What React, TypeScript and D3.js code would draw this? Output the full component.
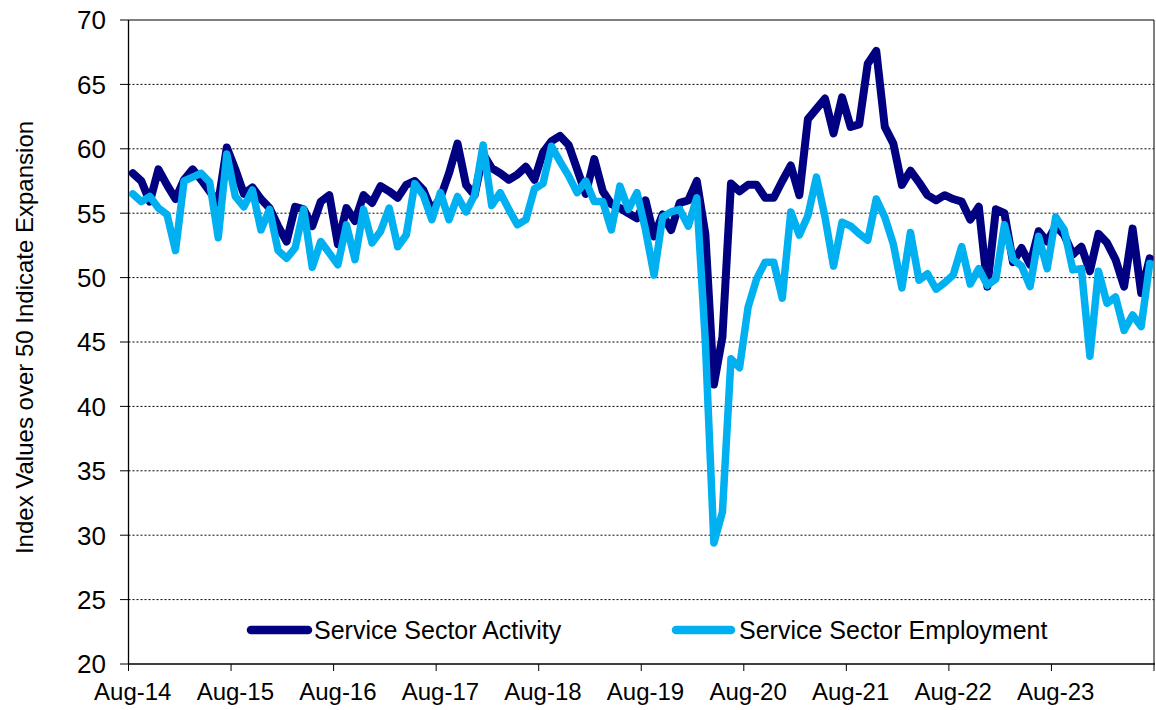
import * as d3 from "d3";

// monthly readings, Aug-14 .. Jul-24
const activity = [
  58.1, 57.5, 55.9, 58.4, 57.2, 56.1, 57.6, 58.4, 57.6, 56.7,
  55.8, 60.1, 58.4, 56.5, 57.0, 56.1, 55.4, 54.0, 52.8, 55.5,
  55.3, 54.0, 55.9, 56.4, 52.6, 55.4, 54.4, 56.4, 55.8, 57.1,
  56.7, 56.2, 57.2, 57.5, 56.8, 55.2, 56.2, 58.1, 60.4, 57.2,
  56.4, 59.6, 58.5, 58.1, 57.6, 58.0, 58.6, 57.6, 59.7, 60.6,
  61.0, 60.3, 58.4, 56.5, 59.2, 56.7, 55.7, 55.4, 55.0, 54.6,
  56.0, 53.2, 54.9, 53.7, 55.8, 56.0, 57.5, 53.4, 41.7, 45.4,
  57.3, 56.7, 57.2, 57.2, 56.2, 56.2, 57.5, 58.7, 56.4, 62.3,
  63.1, 63.9, 61.2, 64.0, 61.7, 61.9, 66.6, 67.6, 61.7, 60.4,
  57.2, 58.3, 57.4, 56.4, 56.0, 56.4, 56.1, 55.9, 54.5, 55.5,
  49.3, 55.3, 55.0, 51.2, 52.3, 51.0, 53.6, 52.8, 54.0, 53.3,
  51.8, 52.4, 50.5, 53.4, 52.7, 51.4, 49.3, 53.8, 48.8, 51.5,
];

const employment = [
  56.5, 55.9, 56.3, 55.4, 54.9, 52.1, 57.5, 57.8, 58.1, 57.4,
  53.1, 59.6, 56.3, 55.5, 56.8, 53.7, 55.3, 52.1, 51.5, 52.3,
  55.3, 50.8, 52.8, 51.9, 51.0, 54.1, 51.4, 55.3, 52.7, 53.6,
  55.4, 52.4, 53.3, 57.3, 56.4, 54.5, 56.6, 54.5, 56.3, 55.1,
  56.4, 60.3, 55.6, 56.6, 55.3, 54.1, 54.5, 56.9, 57.3, 60.2,
  59.0, 57.9, 56.6, 57.5, 55.9, 55.9, 53.7, 57.1, 55.3, 56.6,
  53.7, 50.2, 54.7, 55.1, 55.3, 54.0, 56.2, 45.0, 29.4, 31.8,
  43.7, 43.0, 47.7, 49.9, 51.2, 51.2, 48.4, 55.1, 53.3, 54.8,
  57.8, 54.7, 50.9, 54.3, 54.0, 53.4, 52.9, 56.1, 54.7, 52.6,
  49.2, 53.5, 49.8, 50.3, 49.1, 49.6, 50.2, 52.4, 49.5, 50.7,
  49.4, 49.9, 54.1, 51.4, 50.9, 49.3, 53.2, 50.7, 54.7, 53.7,
  50.6, 50.7, 43.9, 50.5, 48.0, 48.5, 45.9, 47.1, 46.2, 51.1,
];

const yTicks = [20, 25, 30, 35, 40, 45, 50, 55, 60, 65, 70];

const months = d3
  .timeMonth
  .range(new Date(2014, 7, 1), new Date(2024, 7, 1))
  .map((d) => d3.timeFormat("%b-%y")(d));

const W = 1156;
const H = 710;
const FONT = "'Liberation Sans', Arial, Helvetica, sans-serif";
const DARK = "#000080";
const LIGHT = "#00B0F0";

export default function App() {
  const left = 128.5;
  const right = 1154;
  const top = 20;
  const bottom = 664;

  const x = d3.scaleBand<string>().domain(months).range([left, right]).paddingInner(0).paddingOuter(0);
  const y = d3.scaleLinear().domain([20, 70]).range([bottom, top]);
  const cx = (i: number) => (x(months[i]) ?? 0) + x.bandwidth() / 2;

  const line = d3
    .line<number>()
    .x((_, i) => cx(i))
    .y((d) => y(d));

  const yearIdx = months.map((_, i) => i).filter((i) => i % 12 === 0);
  const tickXs = [...yearIdx.map((i) => x(months[i]) ?? 0), right];

  return (
    <svg
      width={W}
      height={H}
      style={{ position: "absolute", left: 0, top: 0, background: "#fff" }}
      fontFamily={FONT}
    >
      {/* gridlines */}
      {yTicks.slice(1, -1).map((t) => (
        <line
          key={t}
          x1={left}
          x2={right}
          y1={y(t)}
          y2={y(t)}
          stroke="#000"
          strokeWidth={1}
          strokeDasharray="2 2"
        />
      ))}
      {/* plot frame top/right */}
      <line x1={left} x2={right} y1={top} y2={top} stroke="#000" strokeWidth={1} />
      <line x1={right} x2={right} y1={top} y2={bottom} stroke="#000" strokeWidth={1} />

      {/* y axis */}
      <line x1={left} x2={left} y1={top} y2={bottom} stroke="#000" strokeWidth={1.3} />
      {yTicks.map((t) => (
        <g key={t}>
          <line x1={left - 8.5} x2={left} y1={y(t)} y2={y(t)} stroke="#000" strokeWidth={1} />
          <text x={106} y={y(t)} dy="0.36em" textAnchor="end" fontSize={26} fill="#000">
            {t}
          </text>
        </g>
      ))}
      <text
        transform={`translate(33, 337.5) rotate(-90)`}
        textAnchor="middle"
        fontSize={24}
        fill="#000"
      >
        Index Values over 50 Indicate Expansion
      </text>

      {/* x axis */}
      <line x1={left} x2={right + 1} y1={bottom} y2={bottom} stroke="#000" strokeWidth={1.3} />
      {tickXs.map((tx, k) => (
        <line key={k} x1={tx} x2={tx} y1={bottom} y2={bottom + 7} stroke="#000" strokeWidth={1} />
      ))}
      {yearIdx.map((i) => (
        <text key={i} x={cx(i)} y={700} textAnchor="middle" fontSize={24} fill="#000">
          {months[i]}
        </text>
      ))}

      {/* series */}
      <path
        d={line(activity) ?? ""}
        fill="none"
        stroke={DARK}
        strokeWidth={8}
        strokeLinejoin="round"
        strokeLinecap="round"
      />
      <path
        d={line(employment) ?? ""}
        fill="none"
        stroke={LIGHT}
        strokeWidth={7.5}
        strokeLinejoin="round"
        strokeLinecap="round"
      />

      {/* legend */}
      <line x1={251} x2={308} y1={630} y2={630} stroke={DARK} strokeWidth={8.5} strokeLinecap="round" />
      <text x={314} y={638.5} fontSize={25} fill="#000">
        Service Sector Activity
      </text>
      <line x1={676} x2={731} y1={630} y2={630} stroke={LIGHT} strokeWidth={8.5} strokeLinecap="round" />
      <text x={739} y={638.5} fontSize={25} fill="#000">
        Service Sector Employment
      </text>
    </svg>
  );
}
